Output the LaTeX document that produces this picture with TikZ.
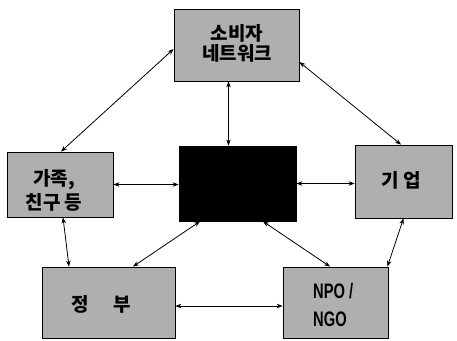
\documentclass[tikz,border=0pt]{standalone}
\usepackage{fontspec}
\newfontfamily\kr{Noto Sans CJK KR}
\newfontfamily\lat{Liberation Sans}
\usetikzlibrary{arrows.meta}
\definecolor{boxgray}{RGB}{175,175,175}
\tikzset{
  gbox/.style={draw=black, line width=0.8pt, fill=boxgray, inner sep=0pt, align=center},
  krtext/.style={inner sep=0pt, align=center, font=\kr\bfseries\fontsize{19}{20}\selectfont},
  link/.style={line width=0.8pt, {Stealth[length=6pt,width=4.5pt]}-{Stealth[length=6pt,width=4.5pt]}}
}
\begin{document}
\begin{tikzpicture}[x=1pt,y=-1pt]
\useasboundingbox (0,0) rectangle (457,340);
\node[gbox, minimum width=125pt, minimum height=72pt] (top) at (236.5,45) {};
\node[krtext] (toptext) at (237,43) {소비자\\네트워크};
\node[gbox, minimum width=106pt, minimum height=65pt] (left) at (60,184.5) {};
\node[krtext, font=\kr\bfseries\fontsize{19}{24}\selectfont] (lefttext) at (54,190) {가족,\\친구 등};
\node[draw=black, fill=black, line width=0.8pt, minimum width=117pt, minimum height=75pt, inner sep=0pt] (mid) at (237.5,183.5) {};
\node[gbox, minimum width=97pt, minimum height=73pt] (right) at (403.5,181.5) {};
\node[krtext] (righttext) at (401.5,180) {기 업};
\node[gbox, minimum width=133pt, minimum height=71pt] (bl) at (108.5,302.5) {};
\node[krtext] (bltext) at (101.5,304) {정\hspace{1.3em}부};
\node[gbox, minimum width=105pt, minimum height=71pt] (br) at (335.5,302.5) {};
\node[anchor=west, align=left, inner sep=0pt, font=\lat\bfseries\fontsize{21}{28}\selectfont] (brtext) at (313,305) {\scalebox{0.7}[1]{NPO /}\\\scalebox{0.7}[1]{NGO}};
\coordinate (t1) at ([xshift=-8pt]top.south);
\draw[link] ([yshift=-4pt]top.west) -- ([xshift=1pt]left.north);
\draw[link] ([yshift=-17pt]top.east) -- ([xshift=-2.5pt]right.north);
\draw[link] (t1) -- (t1 |- mid.north);
\draw[link] (left.east) -- (left.east -| mid.west);
\draw[link] (mid.east) -- (mid.east -| right.west);
\draw[link] ([xshift=3pt]left.south) -- ([xshift=-39.5pt]bl.north);
\draw[link] ([xshift=-37.5pt]mid.south) -- ([xshift=24.5pt]bl.north);
\draw[link] ([xshift=25.5pt]mid.south) -- ([xshift=-5.5pt]br.north);
\draw[link] (right.south) -- ([xshift=-1pt]br.north east);
\draw[link] ([yshift=-3.5pt]bl.east) -- ([yshift=-3.5pt]br.west);
\end{tikzpicture}
\end{document}
